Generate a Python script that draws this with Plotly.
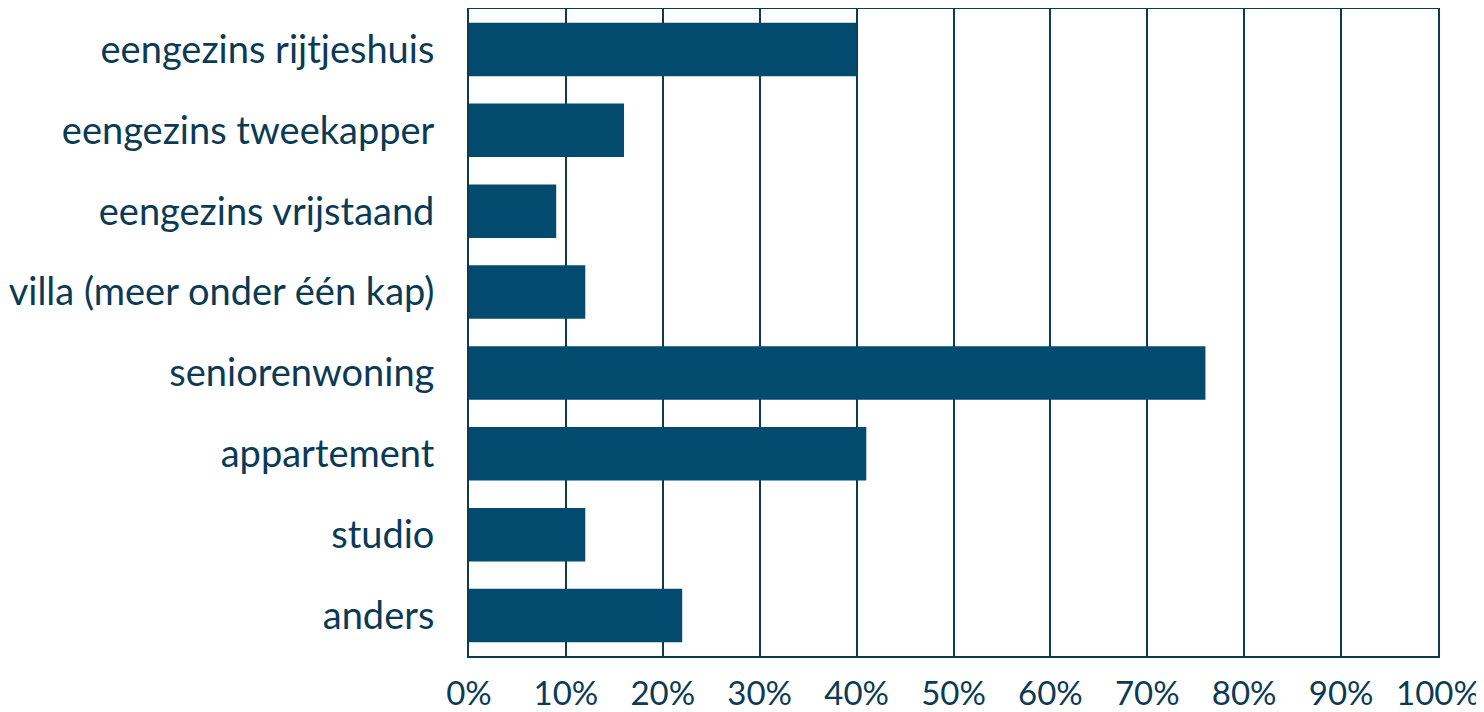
import plotly.graph_objects as go

categories = [
    "eengezins rijtjeshuis",
    "eengezins tweekapper",
    "eengezins vrijstaand",
    "villa (meer onder één kap)",
    "seniorenwoning",
    "appartement",
    "studio",
    "anders",
]
percentages = [40, 16, 9, 12, 76, 41, 12, 22]

tick_values = [0, 10, 20, 30, 40, 50, 60, 70, 80, 90, 100]
tick_labels = [f"{v}%" for v in tick_values]

bar_color = "#034a6f"
line_color = "#0b3a52"
text_color = "#0b3a55"

fig = go.Figure(go.Bar(
    x=percentages,
    y=categories,
    orientation="h",
    marker=dict(color=bar_color, line=dict(width=0)),
    width=0.66,
))

# page body has an 8px margin, so the figure is offset by 8px
fig.update_layout(
    width=1476,
    height=704,
    margin=dict(l=461, r=46, t=1, b=56),
    plot_bgcolor="white",
    paper_bgcolor="white",
    font=dict(family="Lato", size=38, color=text_color),
    showlegend=False,
)
fig.update_xaxes(
    range=[0, 100],
    tickvals=tick_values,
    ticktext=tick_labels,
    tickfont=dict(size=33),
    showgrid=True,
    gridcolor=line_color,
    gridwidth=2,
    showline=True,
    linecolor=line_color,
    linewidth=2,
    mirror=True,
    zeroline=False,
    ticks="",
    ticklabelstandoff=7,
    automargin=False,
)
fig.update_yaxes(
    categoryorder="array",
    categoryarray=categories[::-1],
    range=[-0.5, 7.5],
    showgrid=False,
    showline=True,
    linecolor=line_color,
    linewidth=2,
    mirror=True,
    ticks="",
    ticklabelstandoff=25,
    automargin=False,
)

fig.write_html("out.html")
